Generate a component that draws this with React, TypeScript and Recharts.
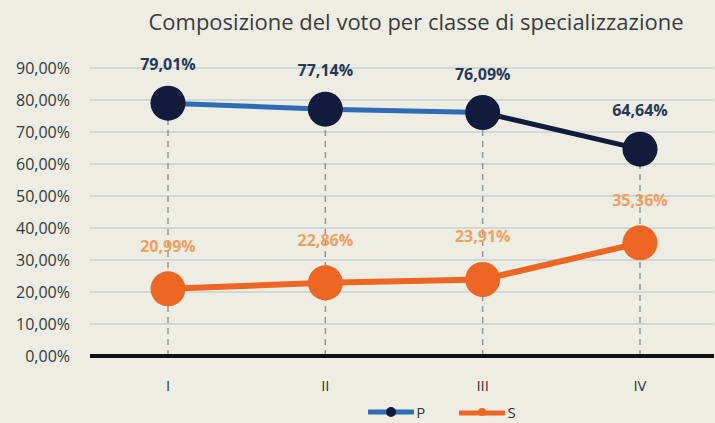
import React from 'react';
import {
  LineChart, Line, XAxis, YAxis, CartesianGrid, ReferenceLine, LabelList, Legend,
} from 'recharts';

// ── Data ──────────────────────────────────────────────────────────────────────

const categories = ['I', 'II', 'III', 'IV'];
const pValues = [79.01, 77.14, 76.09, 64.64];
const sValues = [20.99, 22.86, 23.91, 35.36];
const yTicks = [0, 10, 20, 30, 40, 50, 60, 70, 80, 90];

const data = categories.map((c, i) => ({ cat: c, P: pValues[i], S: sValues[i] }));

const pct = (v: number) => `${v.toFixed(2).replace('.', ',')}%`;

const FONT = '"Open Sans", "DejaVu Sans", sans-serif';
const BG = '#EEEDE3';
const NAVY = '#111B3B';
const BLUE = '#2E6DB5';
const ORANGE = '#EE6623';

function LegendContent() {
  return (
    <div style={{ display: 'flex', justifyContent: 'center', gap: 34, height: 24, alignItems: 'center', paddingLeft: 170, paddingTop: 4, fontFamily: FONT, fontSize: 15, color: '#333' }}>
      <span style={{ display: 'flex', alignItems: 'center' }}>
        <svg width={46} height={12}>
          <line x1={1} y1={6} x2={45} y2={6} stroke={BLUE} strokeWidth={5} strokeLinecap="round" />
          <circle cx={23} cy={6} r={5} fill={NAVY} />
        </svg>
        <span style={{ marginLeft: 2 }}>P</span>
      </span>
      <span style={{ display: 'flex', alignItems: 'center' }}>
        <svg width={46} height={12}>
          <line x1={1} y1={7} x2={45} y2={7} stroke={ORANGE} strokeWidth={5} strokeLinecap="round" />
          <circle cx={23} cy={6} r={4} fill={ORANGE} />
        </svg>
        <span style={{ marginLeft: 2 }}>S</span>
      </span>
    </div>
  );
}

export default function App() {
  return (
    <div style={{ position: 'absolute', left: 0, top: 0, width: 715, height: 423, background: BG, overflow: 'hidden' }}>
      <div style={{ position: 'absolute', left: 0, right: 0, top: 6, textAlign: 'center', paddingLeft: 117, fontFamily: FONT, fontSize: 22, color: '#3a3a3a' }}>
        Composizione del voto per classe di specializzazione
      </div>
      <LineChart width={715} height={423} data={data} margin={{ top: 68, right: 1, bottom: -1, left: 0 }}>
        <defs>
          <linearGradient id="pStroke" x1="0" y1="0" x2="1" y2="0">
            <stop offset="0.6667" stopColor={BLUE} />
            <stop offset="0.6667" stopColor={NAVY} />
          </linearGradient>
        </defs>
        <CartesianGrid vertical={false} stroke="#B9C4C6" strokeWidth={1.2} />
        <XAxis
          dataKey="cat"
          tick={{ fill: '#333', fontSize: 15, fontFamily: FONT }}
          tickLine={false}
          axisLine={{ stroke: '#111', strokeWidth: 4 }}
          tickMargin={18}
          height={40}
          padding={{ left: 78, right: 74 }}
        />
        <YAxis
          domain={[0, 90]}
          ticks={yTicks}
          tickFormatter={pct}
          tick={{ fill: '#2F3A3E', fontSize: 16, fontFamily: FONT }}
          tickLine={false}
          axisLine={false}
          tickMargin={14}
          width={90}
        />
        {categories.map((c, i) => (
          <ReferenceLine
            key={c}
            segment={[{ x: c, y: 0 }, { x: c, y: pValues[i] }]}
            stroke="#8E989C"
            strokeWidth={1.5}
            strokeDasharray="6 5"
          />
        ))}
        <Line
          dataKey="S"
          stroke={ORANGE}
          strokeWidth={6}
          dot={{ r: 17.5, fill: ORANGE, stroke: 'none' }}
          isAnimationActive={false}
        >
          <LabelList dataKey="S" position="top" offset={37} formatter={(v: number) => pct(v)} fill="#F0A061" fontSize={16} fontWeight={700} fontFamily={FONT} />
        </Line>
        <Line
          dataKey="P"
          stroke="url(#pStroke)"
          strokeWidth={5}
          dot={{ r: 17.5, fill: NAVY, stroke: 'none' }}
          isAnimationActive={false}
        >
          <LabelList dataKey="P" position="top" offset={33} formatter={(v: number) => pct(v)} fill="#1F3A5C" fontSize={16} fontWeight={700} fontFamily={FONT} />
        </Line>
        <Legend verticalAlign="bottom" content={<LegendContent />} />
      </LineChart>
    </div>
  );
}
